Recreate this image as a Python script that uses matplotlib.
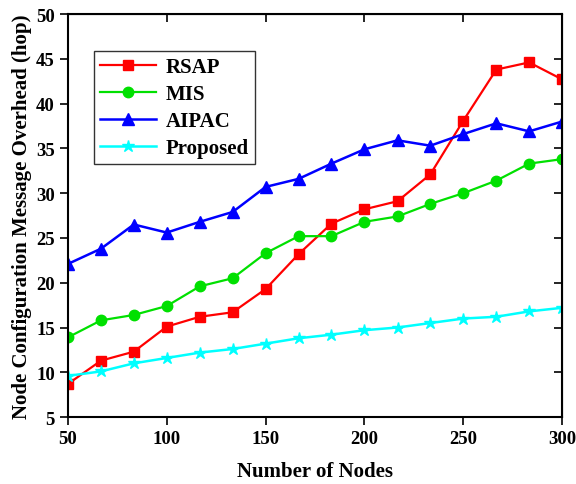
import matplotlib
matplotlib.use("Agg")
import matplotlib.pyplot as plt
import numpy as np

nodes = [50, 66.7, 83.3, 100, 116.7, 133.3, 150, 166.7, 183.3, 200, 216.7, 233.3, 250, 266.7, 283.3, 300]
rsap = [8.7, 11.3, 12.3, 15.1, 16.2, 16.7, 19.3, 23.2, 26.6, 28.2, 29.1, 32.1, 38.1, 43.8, 44.6, 42.7]
mis = [13.9, 15.8, 16.4, 17.4, 19.6, 20.5, 23.3, 25.2, 25.2, 26.8, 27.4, 28.8, 30.0, 31.4, 33.3, 33.8]
aipac = [22.1, 23.8, 26.5, 25.6, 26.8, 27.9, 30.7, 31.6, 33.3, 34.9, 35.9, 35.3, 36.6, 37.8, 36.9, 38.0]
proposed = [9.6, 10.1, 11.0, 11.6, 12.2, 12.6, 13.2, 13.8, 14.2, 14.7, 15.0, 15.5, 16.0, 16.2, 16.8, 17.2]
xticks = [50, 100, 150, 200, 250, 300]
yticks = [5, 10, 15, 20, 25, 30, 35, 40, 45, 50]

plt.rcParams['font.family'] = ['Liberation Serif', 'DejaVu Serif']
plt.rcParams['font.weight'] = 'bold'

fig = plt.figure(figsize=(5.76, 4.85), dpi=100)
ax = fig.add_axes([0.118, 0.138, 0.858, 0.831])

ax.plot(nodes, rsap, color='#ff0000', marker='s', markersize=7, lw=1.6, label='RSAP')
ax.plot(nodes, mis, color='#00e000', marker='o', markersize=7.5, lw=1.6, label='MIS')
ax.plot(nodes, aipac, color='#0000ff', marker='^', markersize=8, lw=1.8, label='AIPAC')
ax.plot(nodes, proposed, color='#00ffff', marker='*', markersize=9, lw=1.8, label='Proposed')

ax.set_xlim(50, 300)
ax.set_ylim(5, 50)
ax.set_xticks(xticks)
ax.set_yticks(yticks)
ax.tick_params(direction='out', length=6, width=1.2, labelsize=13.5)
for lab in ax.get_xticklabels() + ax.get_yticklabels():
    lab.set_fontweight('bold')
for s in ax.spines.values():
    s.set_linewidth(1.5)

sx = ax.secondary_xaxis('top')
sx.set_xticks(xticks)
sx.tick_params(direction='in', length=6, width=1.2, labeltop=False)
sy = ax.secondary_yaxis('right')
sy.set_yticks(yticks)
sy.tick_params(direction='in', length=6, width=1.2, labelright=False)

ax.set_xlabel('Number of Nodes', fontsize=15, fontweight='bold', labelpad=10)
ax.set_ylabel('Node Configuration Message Overhead (hop)', fontsize=15, fontweight='bold', labelpad=3)

leg = ax.legend(loc='upper left', bbox_to_anchor=(0.053, 0.908), fontsize=15,
                frameon=True, fancybox=False, edgecolor='black', handlelength=2.65,
                borderpad=0.3, labelspacing=0.33, handletextpad=0.5, borderaxespad=0)
leg.get_frame().set_linewidth(1.0)
for t in leg.get_texts():
    t.set_fontweight('bold')

fig.savefig('out.png', dpi=100)
